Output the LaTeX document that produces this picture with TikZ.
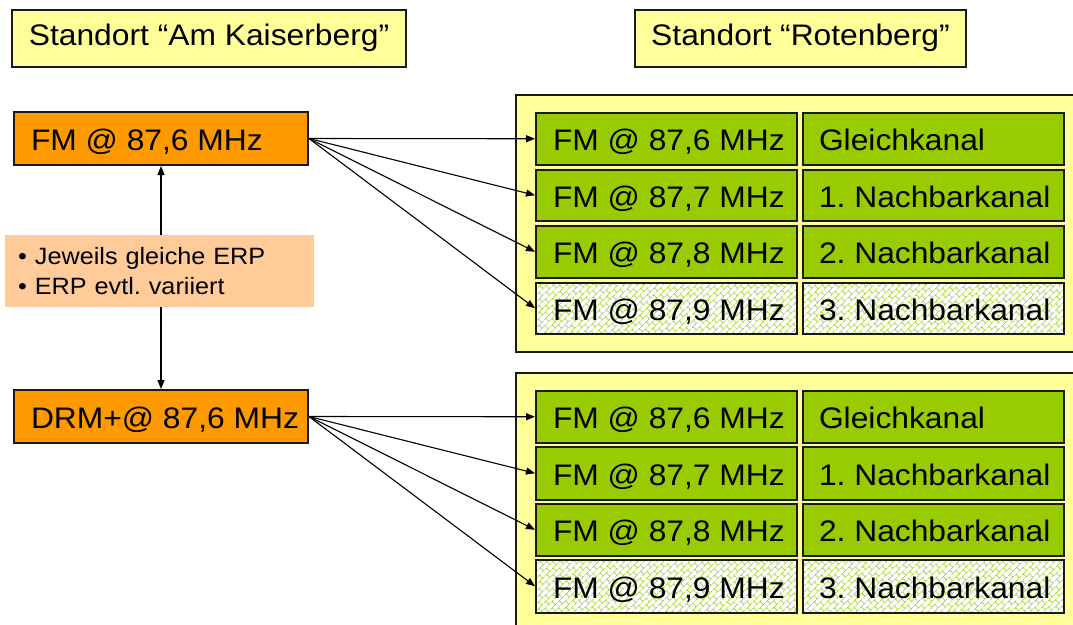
\documentclass[tikz,border=0pt]{standalone}
\usepackage{fontspec}
\setmainfont{Liberation Sans}[FakeStretch=1.07]
\usetikzlibrary{arrows.meta,patterns.meta}
\frenchspacing
\definecolor{ylw}{HTML}{FFFF99}
\definecolor{org}{HTML}{FF9900}
\definecolor{grn}{HTML}{99CC00}
\definecolor{peach}{HTML}{FFCC99}
\definecolor{hatchc}{HTML}{A8D640}
\definecolor{edge}{HTML}{1A1A1A}
\newcommand{\bigf}{\fontsize{29.7}{35}\selectfont}
\newcommand{\notef}{\fontsize{23.6}{29.3}\selectfont}
\newcommand{\lbox}[2]{\makebox[#1][l]{#2}}
\tikzdeclarepattern{
  name=bricks,
  type=uncolored,
  bounding box={(0,0) and (10pt,10pt)},
  tile size={(10pt,10pt)},
  tile transformation={rotate=45},
  code={
    \pgfsetlinewidth{0.8pt}
    \pgfpathmoveto{\pgfpoint{0pt}{2.5pt}}\pgfpathlineto{\pgfpoint{10pt}{2.5pt}}
    \pgfpathmoveto{\pgfpoint{0pt}{7.5pt}}\pgfpathlineto{\pgfpoint{10pt}{7.5pt}}
    \pgfpathmoveto{\pgfpoint{2.5pt}{2.5pt}}\pgfpathlineto{\pgfpoint{2.5pt}{7.5pt}}
    \pgfpathmoveto{\pgfpoint{7.5pt}{7.5pt}}\pgfpathlineto{\pgfpoint{7.5pt}{10pt}}
    \pgfpathmoveto{\pgfpoint{7.5pt}{0pt}}\pgfpathlineto{\pgfpoint{7.5pt}{2.5pt}}
    \pgfusepath{stroke}
  }
}
\tikzset{
  titlebox/.style={draw=edge, line width=1.5pt, fill=ylw, minimum height=57pt, inner sep=0pt, text height=21pt, text depth=7pt, font=\bigf},
  srcbox/.style={draw=edge, line width=2pt, fill=org, anchor=north west, minimum width=294pt, minimum height=53pt, inner xsep=17pt, inner ysep=0pt, text height=24pt, text depth=0pt, font=\bigf},
  groupbox/.style={draw=edge, line width=2pt, fill=ylw},
  cellbase/.style={draw=edge, line width=2pt, anchor=north west, minimum width=261pt, inner ysep=0pt, text height=24pt, text depth=0pt, font=\bigf},
  cellL/.style={cellbase, fill=grn, inner xsep=17pt},
  cellR/.style={cellbase, fill=grn, inner xsep=16pt},
  hatchL/.style={cellbase, preaction={fill=white}, pattern=bricks, pattern color=hatchc, inner xsep=17pt},
  hatchR/.style={cellbase, preaction={fill=white}, pattern=bricks, pattern color=hatchc, inner xsep=16pt},
  notebox/.style={fill=peach, draw=none, anchor=north west, minimum width=309pt, minimum height=72pt, inner xsep=13pt, inner ysep=0pt, text width=283pt, align=left, font=\notef},
  conn/.style={draw=black, line width=1.1pt, -{Triangle[length=9pt,width=7pt]}}
}
\begin{document}
\begin{tikzpicture}[x=1pt,y=-1pt]
\useasboundingbox (0,0) rectangle (1073,624);
\fill[white] (0,0) rectangle (1073,624);

% titles
\node[titlebox, minimum width=394pt] (t1) at (209,38.5) {Standort “Am Kaiserberg”};
\node[titlebox, minimum width=331pt] (t2) at (800.5,38.5) {Standort “Rotenberg”};

% sources
\node[srcbox] (fm) at (13,111) {\lbox{260pt}{FM @ 87,6 MHz}};
\node[srcbox] (drm) at (13,389) {\lbox{260pt}{DRM+@ 87,6 MHz}};

% note
\node[notebox] (note) at (5,235) {\textbullet\ Jeweils gleiche ERP\\\textbullet\ ERP evtl. variiert};

% group boxes
\draw[groupbox] (516,95) rectangle (1090,352);
\draw[groupbox] (516,373) rectangle (1090,650);

% top group cells
\node[cellL, minimum height=51.5pt] (a1) at (535,112) {\lbox{227pt}{FM @ 87,6 MHz}};
\node[cellR, minimum height=51.5pt] (b1) at (802,112) {\lbox{229pt}{Gleichkanal}};
\node[cellL, minimum height=51.5pt] (a2) at (535,168.5) {\lbox{227pt}{FM @ 87,7 MHz}};
\node[cellR, minimum height=51.5pt] (b2) at (802,168.5) {\lbox{229pt}{1. Nachbarkanal}};
\node[cellL, minimum height=51.5pt] (a3) at (535,225) {\lbox{227pt}{FM @ 87,8 MHz}};
\node[cellR, minimum height=51.5pt] (b3) at (802,225) {\lbox{229pt}{2. Nachbarkanal}};
\node[hatchL, minimum height=51.5pt] (a4) at (535,281.5) {\lbox{227pt}{FM @ 87,9 MHz}};
\node[hatchR, minimum height=51.5pt] (b4) at (802,281.5) {\lbox{229pt}{3. Nachbarkanal}};

% bottom group cells
\node[cellL, minimum height=52.5pt] (c1) at (535,389.5) {\lbox{227pt}{FM @ 87,6 MHz}};
\node[cellR, minimum height=52.5pt] (d1) at (802,389.5) {\lbox{229pt}{Gleichkanal}};
\node[cellL, minimum height=52.5pt] (c2) at (535,446) {\lbox{227pt}{FM @ 87,7 MHz}};
\node[cellR, minimum height=52.5pt] (d2) at (802,446) {\lbox{229pt}{1. Nachbarkanal}};
\node[cellL, minimum height=52.5pt] (c3) at (535,502.5) {\lbox{227pt}{FM @ 87,8 MHz}};
\node[cellR, minimum height=52.5pt] (d3) at (802,502.5) {\lbox{229pt}{2. Nachbarkanal}};
\node[hatchL, minimum height=52.5pt] (c4) at (535,559) {\lbox{227pt}{FM @ 87,9 MHz}};
\node[hatchR, minimum height=52.5pt] (d4) at (802,559) {\lbox{229pt}{3. Nachbarkanal}};

% connectors
\foreach \t in {a1,a2,a3,a4} \draw[conn] (fm.east) -- (\t.west);
\foreach \t in {c1,c2,c3,c4} \draw[conn] (drm.east) -- (\t.west);
\draw[conn] (note.north -| fm.south) -- (fm.south);
\draw[conn] (note.south -| drm.north) -- (drm.north);
\end{tikzpicture}
\end{document}
